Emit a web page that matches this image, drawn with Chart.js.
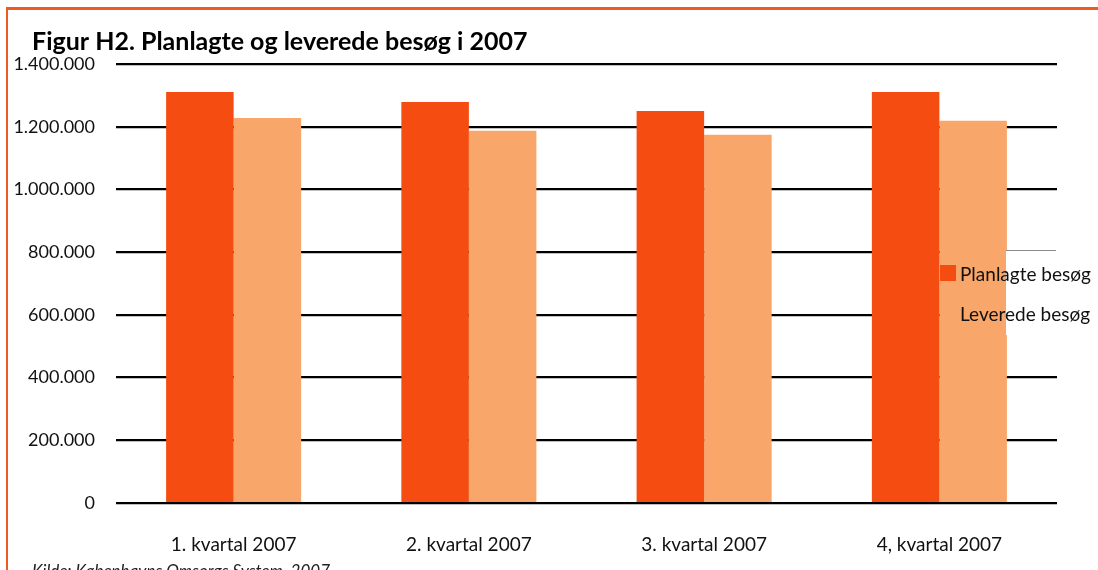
<!DOCTYPE html>
<html>
<head>
<meta charset="utf-8">
<script src="https://cdn.jsdelivr.net/npm/chart.js@4"></script>
<style>
    html, body { margin: 0; padding: 0; background: #fff; overflow: hidden; }
    #wrap { position: relative; width: 1098px; height: 570px; }
    #frame {
        position: absolute; left: 6px; top: 7px; width: 1200px; height: 700px;
        border-left: 2px solid #f05a22; border-top: 3px solid #f05a22;
    }
    canvas { position: absolute; left: 0; top: 0; }
</style>
</head>
<body>
<div id="wrap">
    <div id="frame"></div>
    <canvas id="chart" width="1098" height="570"></canvas>
</div>
<script>
/* ============================================
   DATA
============================================ */
const categories = ['1. kvartal 2007', '2. kvartal 2007', '3. kvartal 2007', '4, kvartal 2007'];
const planlagte = [1311000, 1279000, 1250000, 1311000];
const leverede = [1228000, 1187000, 1174000, 1219000];
const seriesNames = ['Planlagte besøg', 'Leverede besøg'];
const yTicks = [0, 200000, 400000, 600000, 800000, 1000000, 1200000, 1400000];

const FONT = "Lato, 'Open Sans', sans-serif";

function fmt(v) {
    return String(v).replace(/\B(?=(\d{3})+(?!\d))/g, '.');
}

/* ============================================
   EXTRA DRAWING: title, legend, source
============================================ */
const decorPlugin = {
    id: 'decor',
    afterDatasetsDraw(chart) {
        const ctx = chart.ctx;
        ctx.save();
        // legend box sits over the gridlines to the right of the last bar
        ctx.fillStyle = '#fff';
        ctx.fillRect(1006, 251, 92, 84);
        ctx.strokeStyle = '#8a8a8a';
        ctx.lineWidth = 1;
        ctx.beginPath();
        ctx.moveTo(1006, 250.5);
        ctx.lineTo(1056, 250.5);
        ctx.stroke();

        ctx.font = '19px ' + FONT;
        ctx.textBaseline = 'alphabetic';
        chart.data.datasets.forEach((ds, i) => {
            const y = 281 + i * 40;
            ctx.fillStyle = ds.backgroundColor;
            ctx.fillRect(940, y - 16, 16, 16);
            ctx.fillStyle = '#111';
            ctx.fillText(ds.label, 960, y);
        });

        // title
        ctx.font = 'bold 25px ' + FONT;
        ctx.fillStyle = '#000';
        ctx.fillText('Figur H2. Planlagte og leverede besøg i 2007', 32, 50);

        // source (cut off by the bottom edge)
        ctx.font = 'italic 17px ' + FONT;
        ctx.fillStyle = '#222';
        ctx.fillText('Kilde: Københavns Omsorgs System, 2007', 32, 577);
        ctx.restore();
    }
};

/* ============================================
   BAR CHART
============================================ */
function initChart() {
    const canvas = document.getElementById('chart');

    new Chart(canvas.getContext('2d'), {
        type: 'bar',
        data: {
            labels: categories,
            datasets: [{
                label: seriesNames[0],
                data: planlagte,
                backgroundColor: '#f54c11',
                categoryPercentage: 0.574,
                barPercentage: 1.0
            }, {
                label: seriesNames[1],
                data: leverede,
                backgroundColor: '#f9a66a',
                categoryPercentage: 0.574,
                barPercentage: 1.0
            }]
        },
        options: {
            responsive: false,
            animation: false,
            layout: {
                padding: { top: 64, bottom: 0, left: 12, right: 41 }
            },
            plugins: {
                legend: { display: false },
                title: { display: false },
                tooltip: { enabled: false }
            },
            scales: {
                x: {
                    afterFit: scale => { scale.height = 67; },
                    grid: { display: false, drawTicks: false },
                    border: { display: false },
                    ticks: {
                        color: '#111',
                        font: { family: FONT, size: 19 },
                        padding: 30
                    }
                },
                y: {
                    min: 0,
                    max: 1400000,
                    afterBuildTicks: scale => {
                        scale.ticks = yTicks.map(v => ({ value: v }));
                    },
                    afterFit: scale => { scale.width = 104; },
                    grid: {
                        color: '#000',
                        lineWidth: 2.2,
                        drawTicks: false
                    },
                    border: { display: false },
                    ticks: {
                        color: '#111',
                        font: { family: FONT, size: 18 },
                        padding: 21,
                        callback: v => fmt(v)
                    }
                }
            }
        },
        plugins: [decorPlugin]
    });
}

document.addEventListener('DOMContentLoaded', initChart);
</script>
</body>
</html>
